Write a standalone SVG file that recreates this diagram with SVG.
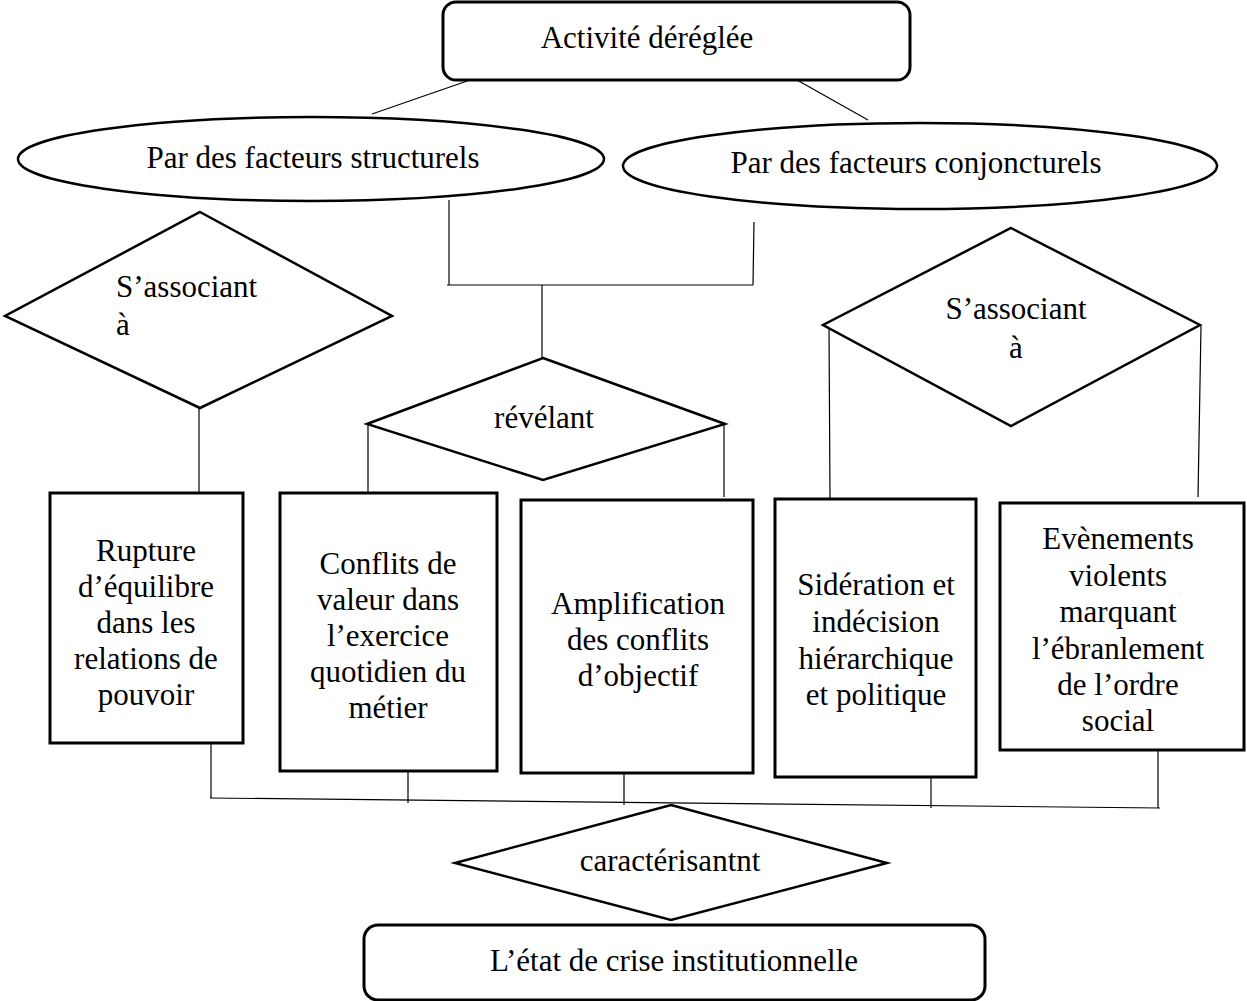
<svg xmlns="http://www.w3.org/2000/svg" width="1247" height="1001" viewBox="0 0 1247 1001">
<style>
.n{fill:#fff;stroke:#000;stroke-width:2.5}
.b{fill:#fff;stroke:#000;stroke-width:3}
.c{fill:none;stroke:#000;stroke-width:1.2}
text{font-family:"Liberation Serif","Times New Roman",serif;font-size:31px;fill:#000}
.m{text-anchor:middle}
</style>
<rect width="1247" height="1001" fill="#fff"/>
<g id="connectors">
<line class="c" x1="372" y1="114" x2="470" y2="80"/>
<line class="c" x1="797" y1="80" x2="868" y2="120"/>
<line class="c" x1="449" y1="200" x2="449" y2="285"/>
<line class="c" x1="754" y1="222" x2="753" y2="285"/>
<line class="c" x1="447" y1="285" x2="753" y2="285"/>
<line class="c" x1="542" y1="285" x2="542" y2="358"/>
<line class="c" x1="199" y1="408" x2="199" y2="493"/>
<line class="c" x1="368" y1="424" x2="368" y2="492"/>
<line class="c" x1="724" y1="424" x2="724" y2="497"/>
<line class="c" x1="829" y1="326" x2="830" y2="498"/>
<line class="c" x1="1201" y1="326" x2="1198" y2="497"/>
<line class="c" x1="211" y1="737" x2="211" y2="798"/>
<line class="c" x1="408" y1="771" x2="408" y2="803"/>
<line class="c" x1="624" y1="773" x2="624" y2="805"/>
<line class="c" x1="931" y1="776" x2="931" y2="808"/>
<line class="c" x1="1158" y1="747" x2="1158" y2="808"/>
<line class="c" x1="210" y1="798" x2="1160" y2="808"/>
</g>
<g id="n-activite">
<rect class="b" x="443" y="2" width="467" height="78" rx="13"/>
<text class="m" x="647" y="48">Activité déréglée</text>
</g>
<g id="n-structurels">
<ellipse class="n" cx="311" cy="159" rx="293" ry="42"/>
<text class="m" x="313" y="168">Par des facteurs structurels</text>
</g>
<g id="n-conjoncturels">
<ellipse class="n" cx="920" cy="166" rx="297" ry="43"/>
<text class="m" x="916" y="173">Par des facteurs conjoncturels</text>
</g>
<g id="d-associant-1">
<polygon class="n" points="200,212 392,316 200,408 5,316"/>
<text x="116" y="297">S’associant</text>
<text x="116" y="335">à</text>
</g>
<g id="d-revelant">
<polygon class="n" points="543,358 725,424 543,480 367,424"/>
<text class="m" x="544" y="428">révélant</text>
</g>
<g id="d-associant-2">
<polygon class="n" points="1011,228 1200,325 1011,426 823,325"/>
<text class="m" x="1016" y="319">S’associant</text>
<text class="m" x="1016" y="358">à</text>
</g>
<g id="b-rupture">
<rect class="b" x="50" y="493" width="193" height="250"/>
<text class="m" x="146" y="561">Rupture</text>
<text class="m" x="146" y="597">d’équilibre</text>
<text class="m" x="146" y="633">dans les</text>
<text class="m" x="146" y="669">relations de</text>
<text class="m" x="146" y="705">pouvoir</text>
</g>
<g id="b-conflits">
<rect class="b" x="280" y="493" width="217" height="278"/>
<text class="m" x="388" y="574">Conflits de</text>
<text class="m" x="388" y="610">valeur dans</text>
<text class="m" x="388" y="646">l’exercice</text>
<text class="m" x="388" y="682">quotidien du</text>
<text class="m" x="388" y="718">métier</text>
</g>
<g id="b-amplification">
<rect class="b" x="521" y="500" width="232" height="273"/>
<text class="m" x="638" y="614">Amplification</text>
<text class="m" x="638" y="650">des conflits</text>
<text class="m" x="638" y="686">d’objectif</text>
</g>
<g id="b-sideration">
<rect class="b" x="775" y="499" width="201" height="278"/>
<text class="m" x="876" y="595">Sidération et</text>
<text class="m" x="876" y="632">indécision</text>
<text class="m" x="876" y="669">hiérarchique</text>
<text class="m" x="876" y="705">et politique</text>
</g>
<g id="b-evenements">
<rect class="b" x="1000" y="503" width="244" height="247"/>
<text class="m" x="1118" y="549">Evènements</text>
<text class="m" x="1118" y="586">violents</text>
<text class="m" x="1118" y="622">marquant</text>
<text class="m" x="1118" y="659">l’ébranlement</text>
<text class="m" x="1118" y="695">de l’ordre</text>
<text class="m" x="1118" y="731">social</text>
</g>
<g id="d-caracterisant">
<polygon class="n" points="671,805 887,863 671,920 455,863"/>
<text class="m" x="670" y="871">caractérisantnt</text>
</g>
<g id="n-crise">
<rect class="b" x="364" y="925" width="621" height="75" rx="14"/>
<text class="m" x="674" y="971">L’état de crise institutionnelle</text>
</g>
</svg>
